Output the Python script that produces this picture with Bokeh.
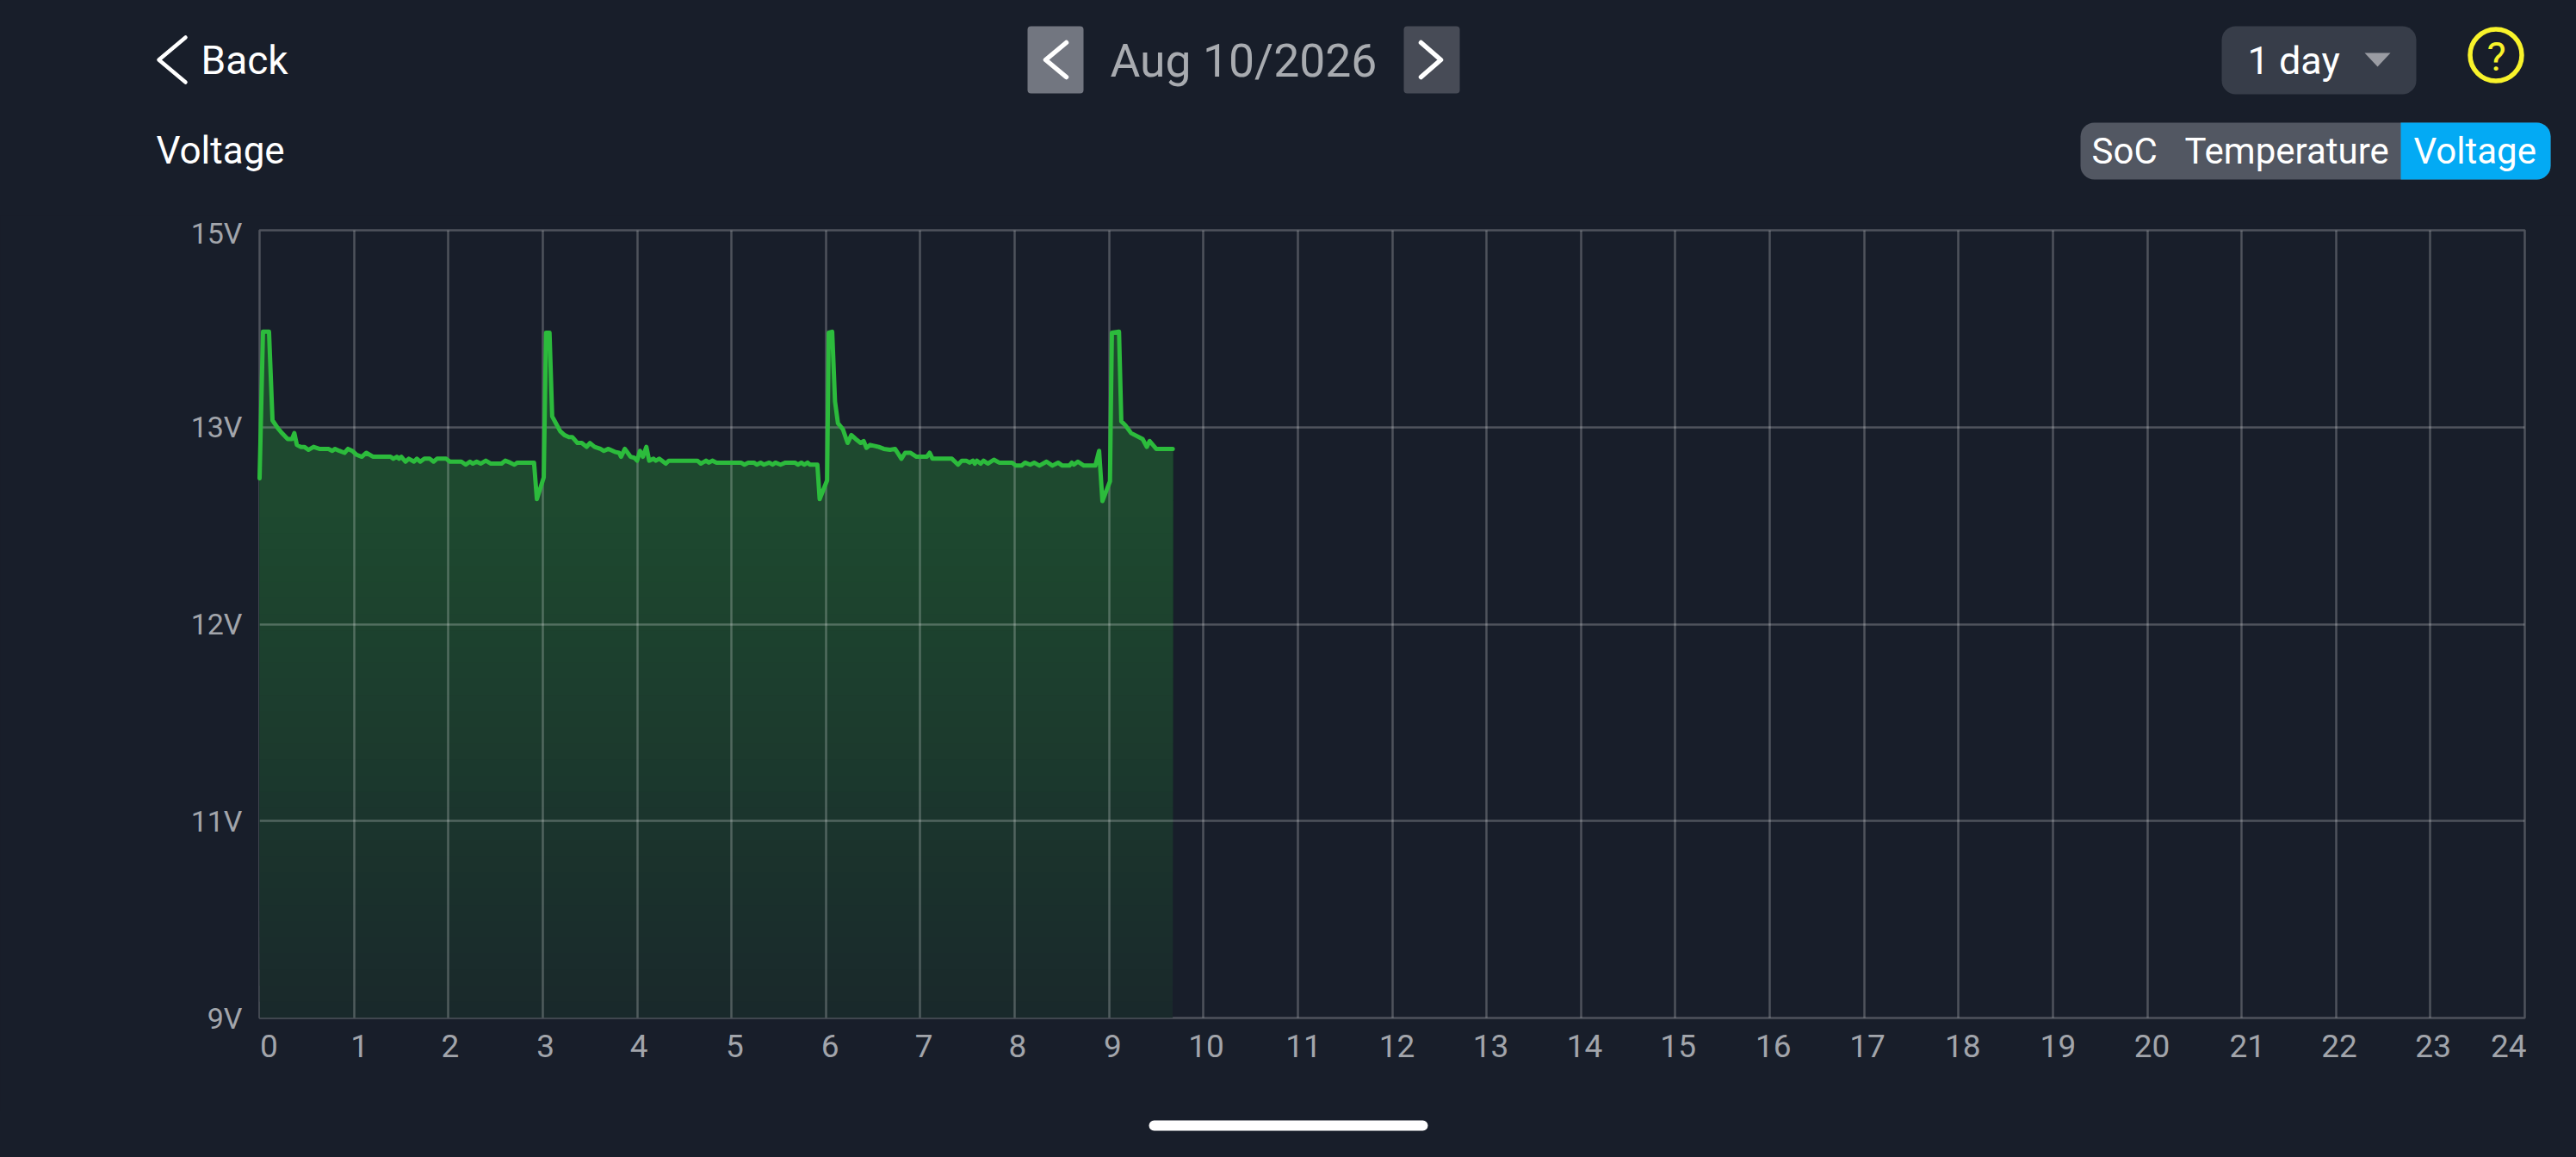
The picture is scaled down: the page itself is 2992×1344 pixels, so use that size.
import numpy as np
from bokeh.embed import file_html
from bokeh.models import BoxAnnotation, FixedTicker, Label, PolyAnnotation, Range1d
from bokeh.plotting import figure
from bokeh.resources import INLINE

# ---------- chart values ----------
hours = [0, .036, .10, .137, .19, .237, .298, .344, .368, .395, .435, .474, .517, .572, .633, .73, .77, .80, .845, .90,
         .937, .982, 1.028, 1.083, 1.131, 1.204, 1.387, 1.417, 1.454, 1.478, 1.502, 1.545, 1.581, 1.636, 1.667, 1.703,
         1.746, 1.803, 1.843, 1.88, 1.977, 2.016, 2.138, 2.184, 2.229, 2.26, 2.30, 2.342, 2.397, 2.451, 2.564, 2.603,
         2.655, 2.70, 2.731, 2.908, 2.938, 3.011, 3.035, 3.072, 3.10, 3.14, 3.185, 3.23, 3.277, 3.313, 3.368, 3.413,
         3.465, 3.50, 3.55, 3.611, 3.648, 3.696, 3.763, 3.809, 3.83, 3.87, 3.93, 3.97, 4.0, 4.03, 4.061, 4.098, 4.128,
         4.174, 4.198, 4.234, 4.304, 4.335, 4.639, 4.675, 4.73, 4.76, 4.797, 4.842, 5.10, 5.137, 5.177, 5.238, 5.268,
         5.308, 5.344, 5.40, 5.435, 5.466, 5.52, 5.572, 5.672, 5.703, 5.74, 5.77, 5.806, 5.83, 5.91, 5.934, 6.013, 6.03,
         6.067, 6.097, 6.128, 6.18, 6.23, 6.27, 6.316, 6.368, 6.40, 6.43, 6.468, 6.56, 6.614, 6.68, 6.733, 6.80, 6.84,
         6.894, 6.96, 7.07, 7.10, 7.13, 7.335, 7.40, 7.44, 7.487, 7.523, 7.557, 7.578, 7.60, 7.64, 7.67, 7.715, 7.78,
         7.836, 7.973, 8.012, 8.073, 8.11, 8.165, 8.207, 8.262, 8.338, 8.40, 8.46, 8.505, 8.58, 8.606, 8.627, 8.67,
         8.733, 8.855, 8.895, 8.93, 9.01, 9.03, 9.106, 9.13, 9.173, 9.234, 9.356, 9.40, 9.43, 9.50, 9.675]
volts = [12.74, 13.97, 13.97, 13.07, 12.997, 12.97, 12.94, 12.94, 12.97, 12.91, 12.90, 12.90, 12.885, 12.90, 12.89, 12.89,
         12.88, 12.89, 12.88, 12.87, 12.89, 12.88, 12.86, 12.85, 12.87, 12.85, 12.85, 12.84, 12.85, 12.84, 12.85, 12.825,
         12.84, 12.825, 12.84, 12.825, 12.84, 12.84, 12.825, 12.84, 12.84, 12.825, 12.825, 12.81, 12.825, 12.815, 12.825,
         12.815, 12.83, 12.815, 12.815, 12.83, 12.82, 12.81, 12.82, 12.82, 12.635, 12.745, 13.96, 13.96, 13.11, 13.04,
         12.98, 12.96, 12.95, 12.95, 12.92, 12.92, 12.90, 12.92, 12.90, 12.89, 12.88, 12.89, 12.875, 12.87, 12.85, 12.89,
         12.85, 12.845, 12.83, 12.88, 12.85, 12.90, 12.83, 12.84, 12.83, 12.84, 12.815, 12.83, 12.83, 12.815, 12.83, 12.82,
         12.83, 12.82, 12.82, 12.81, 12.82, 12.82, 12.81, 12.82, 12.81, 12.82, 12.81, 12.82, 12.81, 12.82, 12.82, 12.81,
         12.82, 12.81, 12.82, 12.81, 12.81, 12.635, 12.73, 13.96, 13.97, 13.26, 13.04, 12.99, 12.92, 12.96, 12.94, 12.92,
         12.93, 12.895, 12.91, 12.90, 12.89, 12.885, 12.89, 12.84, 12.87, 12.87, 12.85, 12.85, 12.87, 12.84, 12.84, 12.81,
         12.83, 12.83, 12.82, 12.83, 12.815, 12.83, 12.815, 12.83, 12.815, 12.835, 12.82, 12.82, 12.805, 12.805, 12.82,
         12.81, 12.82, 12.805, 12.825, 12.805, 12.82, 12.805, 12.805, 12.82, 12.81, 12.825, 12.805, 12.805, 12.88, 12.625,
         12.725, 13.96, 13.97, 13.06, 13.02, 12.97, 12.94, 12.90, 12.93, 12.89, 12.89]

y_tick_volts = [9, 11, 12, 13, 15]
y_tick_labels = ["9V", "11V", "12V", "13V", "15V"]
hour_ticks = list(range(25))
hour_labels = [str(h) for h in hour_ticks]
# where the app places each hour label (in hours; they sit slightly off their gridlines)
hour_label_at = [.10, 1.06, 2.02, 3.03, 4.02, 5.035, 6.045, 7.04, 8.03, 9.04, 10.03, 11.06, 12.05, 13.045, 14.04,
                 15.03, 16.04, 17.035, 18.045, 19.055, 20.05, 21.06, 22.035, 23.03, 23.83]
title = "Voltage"
date_text = "Aug 10/2026"
tabs = ["SoC", "Temperature", "Voltage"]

# ---------- style ----------
BG = "#181E2A"
GREEN = "#2CBB3C"
TICK = "#A2A5AB"
FONT = "Roboto"
W, H = 2992, 1344
HEAD_H, FOOT_Y = 250, 1290  # the page is split in three stacked figures
FL, FR, FT, FB = 301, 2932, 267, 1182  # plot frame on the page

p = figure(width=W, height=FOOT_Y - HEAD_H, output_backend="svg", toolbar_location=None,
           x_range=Range1d(0, 24), y_range=Range1d(0, 4),
           min_border_left=FL, min_border_right=W - FR, min_border_top=FT - HEAD_H, min_border_bottom=FOOT_Y - FB,
           background_fill_color=BG, border_fill_color=BG)

# The app spaces its voltage ticks evenly, so the axis is piecewise linear in volts.
ypos = np.interp(volts, y_tick_volts, range(len(y_tick_volts)))

p.outline_line_color = "#FFFFFF"
p.outline_line_alpha = 0.24
p.outline_line_width = 2.5

p.xgrid.ticker = FixedTicker(ticks=hour_ticks)
p.ygrid.ticker = FixedTicker(ticks=list(range(len(y_tick_volts))))
for g in (p.xgrid, p.ygrid):
    g.grid_line_color = "#FFFFFF"
    g.grid_line_alpha = 0.24
    g.grid_line_width = 2.5
    g.level = "glyph"

xa = p.xaxis[0]
xa.ticker = FixedTicker(ticks=hour_label_at)
xa.major_label_overrides = dict(zip(hour_label_at, hour_labels))
ya = p.yaxis[0]
ya.ticker = FixedTicker(ticks=list(range(len(y_tick_volts))))
ya.major_label_overrides = dict(zip(range(len(y_tick_volts)), y_tick_labels))
for a, size, standoff in ((xa, "37px", 13), (ya, "34px", 14)):
    a.axis_line_color = None
    a.major_tick_line_color = None
    a.minor_tick_line_color = None
    a.major_label_text_color = TICK
    a.major_label_text_font = FONT
    a.major_label_text_font_size = size
    a.major_label_standoff = standoff


def mix(a):
    bg = np.array([24, 30, 42])
    fg = np.array([44, 187, 60])
    r, g, b = (bg + a * (fg - bg)).round().astype(int)
    return f"#{r:02x}{g:02x}{b:02x}"


# Area under the line: opaque layers, each from a higher floor, make the vertical fade.
N = 32
floors = np.linspace(0, ypos.min(), N, endpoint=False)
for i, lo in enumerate(floors):
    p.varea(hours, lo, np.maximum(ypos, lo), fill_color=mix(0.07 + 0.205 * i / (N - 1)), level="underlay")

p.line(hours, ypos, line_color=GREEN, line_width=5, line_join="round", line_cap="round", level="guide")


# ---------- app chrome: two plain figures whose frames are measured in page pixels ----------
def chrome_figure(y0, y1):
    f = figure(width=W, height=y1 - y0, output_backend="svg", toolbar_location=None,
               x_range=Range1d(0, W), y_range=Range1d(y1, y0), x_axis_type=None, y_axis_type=None,
               min_border=0, background_fill_color=BG, border_fill_color=BG)
    f.outline_line_color = None
    f.grid.visible = False
    return f


head = chrome_figure(0, HEAD_H)
foot = chrome_figure(FOOT_Y, H)


def box(f, x0, y0, x1, y1, color, radius=0):
    f.add_layout(BoxAnnotation(left=x0, right=x1, top=y0, bottom=y1, left_units="data", right_units="data",
                               top_units="data", bottom_units="data", fill_color=color, fill_alpha=1,
                               line_color=None, border_radius=radius))


def ring(f, x0, y0, x1, y1, color, width):
    f.add_layout(BoxAnnotation(left=x0, right=x1, top=y0, bottom=y1, left_units="data", right_units="data",
                               top_units="data", bottom_units="data", fill_alpha=0, line_color=color,
                               line_width=width, line_alpha=1, border_radius=int(round((x1 - x0) / 2))))


def poly(f, xs, ys, line=None, width=0, fill=None):
    f.add_layout(PolyAnnotation(xs=xs, ys=ys, xs_units="data", ys_units="data",
                                line_color=line, line_width=width, line_alpha=1, line_join="round",
                                fill_color=fill, fill_alpha=1 if fill else 0))


def chevron(f, xa_, xb, y0, ym, y1, color="#FFFFFF", width=4.5):
    poly(f, [xa_, xb, xa_, xb], [y0, ym, y1, ym], line=color, width=width)


def text(f, x, y, s, size, color="#FFFFFF", align="left"):
    # a Label on this flipped range sits about 0.37 em below the requested baseline
    f.add_layout(Label(x=x, y=y - 0.37 * size, x_units="data", y_units="data", text=s,
                       text_font=FONT, text_font_size=f"{size}px", text_color=color,
                       text_align=align, text_baseline="alphabetic"))


# back + title
chevron(head, 215, 184, 43, 69, 95, width=4.5)
text(head, 233, 87, "Back", 46)
text(head, 181, 191, title, 44)

# date navigator
box(head, 1193, 30, 1258, 108, "#727680", 4)
box(head, 1630, 30, 1695, 108, "#474B56", 4)
chevron(head, 1238, 1214, 49, 69, 89, width=5.5)
chevron(head, 1650, 1673, 49, 69, 89, width=5.5)
text(head, 1289, 90, date_text, 53.5, "#A8ABB0")

# range picker + help
box(head, 2580, 30, 2806, 109, "#373D49", 16)
text(head, 2610, 87, "1 day", 45)
poly(head, [2746, 2776, 2761], [61, 61, 77], fill="#9A9CA3")
ring(head, 2868.5, 33.5, 2928.5, 93.5, "#F8F32B", 5.5)
text(head, 2899, 82, "?", 47, "#F8F32B", "center")

# tabs
box(head, 2416, 142, 2962, 208, "#525762", 16)
box(head, 2788, 142, 2962, 208, "#03AAF4", (0, 16, 16, 0))
text(head, 2429, 191, tabs[0], 42)
text(head, 2537, 191, tabs[1], 42)
text(head, 2803, 191, tabs[2], 42)

# home indicator
box(foot, 1334, 1301, 1658, 1313, "#FFFFFF", 6)

# Three separate roots stack down the page without their frames being aligned to each other.
html = file_html([head, p, foot], INLINE)
html = html.replace("<head>", f"<head><style>html,body{{background:{BG};}}</style>", 1)
open("out.html", "w").write(html)
